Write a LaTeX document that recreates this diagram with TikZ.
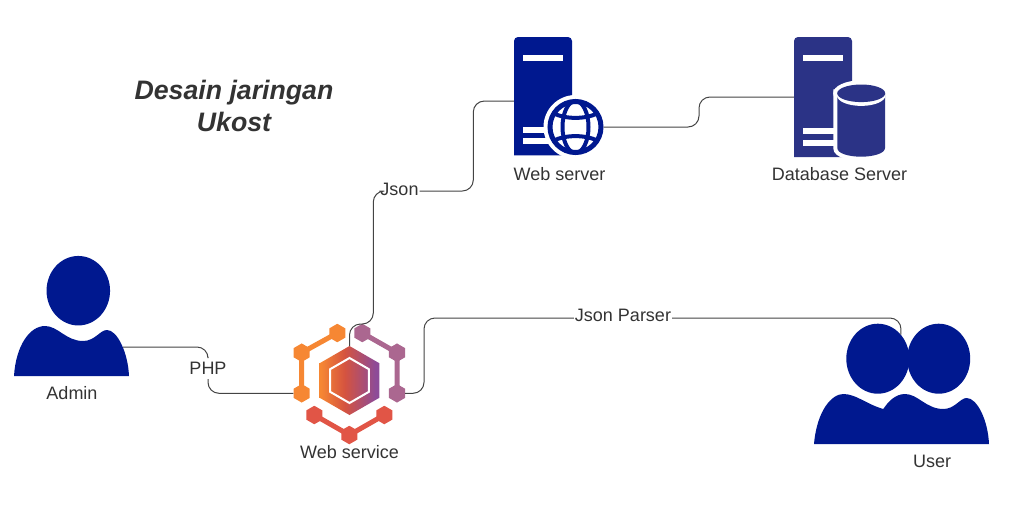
\documentclass[tikz,border=0pt]{standalone}
\usepackage{fontspec}
\setmainfont{Liberation Sans}
\usetikzlibrary{calc,positioning,shapes.geometric}
\definecolor{navyicon}{HTML}{00188F}
\definecolor{dbicon}{HTML}{2B3386}
\definecolor{labeltext}{HTML}{333333}
\definecolor{linkgray}{HTML}{444444}
\definecolor{hexorange}{HTML}{F68733}
\definecolor{hexplum}{HTML}{AB6790}
\definecolor{hexred}{HTML}{E15546}
\definecolor{hexcrimson}{HTML}{D5533F}
\definecolor{hexpurple}{HTML}{8D4B98}
\pgfdeclarehorizontalshading{corefade}{100bp}{
  color(0bp)=(hexorange); color(26bp)=(hexorange); color(46bp)=(hexcrimson);
  color(72bp)=(hexpurple); color(100bp)=(hexpurple)}

\begin{document}
\begin{tikzpicture}[
      x=1pt, y=-1pt,
      every node/.style={font=\fontsize{18}{21}\selectfont, text=labeltext, inner sep=1pt},
      link/.style={draw=linkgray, line width=1pt, rounded corners=11pt},
      head/.style={ellipse, fill=navyicon, inner sep=0pt},
      hexshape/.style={regular polygon, regular polygon sides=6, regular polygon rotate=30, inner sep=0pt},
      hexcell/.style={hexshape, minimum size=18.5pt},
      arm/.style={line width=5pt}
    ]
      \useasboundingbox (0,0) rectangle (1012,509);

      % Title
      \node[font=\fontsize{26.7}{32}\selectfont\bfseries\itshape, align=center] (title) at (234,105.5) {Desain jaringan\\Ukost};

      % Admin
      \node[head, minimum width=63.5pt, minimum height=69.5pt] (adminhead) at (78.3,290.7) {};
      \fill[navyicon] (14,376) .. controls (16,345) and (30,326) .. (45,326)
        .. controls (58,326) and (66,341) .. (83,341)
        .. controls (95,341) and (100,330) .. (107,330)
        .. controls (117,330) and (128,352) .. (129,376) -- cycle;
      \coordinate (adminport) at (123,347);
      \node (adminlabel) at (72,393) {Admin};

      % User
      \node[head, minimum width=63pt, minimum height=70pt] (userhead) at (877.8,358.7) {};
      \node[head, minimum width=63pt, minimum height=70pt] (userhead2) at (938.7,358.7) {};
      \fill[navyicon] (814,444) .. controls (817,410) and (832,394) .. (843.3,394)
        .. controls (856,394) and (866,404) .. (883.3,409)
        .. controls (888,402) and (895,394) .. (905,394)
        .. controls (918,394) and (926,409) .. (943.3,409)
        .. controls (955,409) and (960,398) .. (966.7,398)
        .. controls (977,398) and (988,420) .. (989,444) -- cycle;
      \node (userlabel) at (932,461) {User};

      % Servers
      \foreach \sname/\xa/\yb/\clr in {webserver/514/155.3/navyicon, dbserver/794/157/dbicon}{
        \node[minimum width=58pt, minimum height=\yb pt-37pt, inner sep=0pt] (\sname) at (\xa+29,{(\yb+37)/2}) {};
        \fill[\clr] (\xa,\yb) {[rounded corners=4pt] -- (\xa,37) -- (\xa+58,37)} -- (\xa+58,\yb) -- cycle;
        \fill[white] (\xa+8.7,54.7) rectangle (\xa+49,60.7);
        \fill[white] (\xa+8.7,\yb-28.6) rectangle (\xa+49,\yb-22.6);
        \fill[white] (\xa+8.7,\yb-17) rectangle (\xa+49,\yb-11);
      }
      \node (weblabel) at (559.5,174) {Web server};
      \node (dblabel) at (839.5,174) {Database Server};

      % Globe
      \fill[white] (575.5,127) circle (32);
      \node[circle, draw=navyicon, fill=white, line width=5pt, minimum size=51pt, inner sep=0pt] (globe) at (575.5,127) {};
      \draw[navyicon, line width=4pt] (globe.center) ellipse [x radius=13, y radius=26];
      \draw[navyicon, line width=4pt] (553,113) .. controls (565,119.5) and (586,119.5) .. (598,113);
      \draw[navyicon, line width=4pt] (553,141) .. controls (565,134.5) and (586,134.5) .. (598,141);

      % Cylinder
      \fill[white, draw=white, line width=8pt] (837.3,93.3) -- (837.3,148)
        .. controls (837.3,153.5) and (849,156.7) .. (861.2,156.7)
        .. controls (873,156.7) and (885,153.5) .. (885,148) -- (885,93.3) -- cycle;
      \fill[white] (861.2,93.3) ellipse [x radius=28, y radius=13];
      \fill[dbicon] (837.3,93.3) -- (837.3,148)
        .. controls (837.3,153.5) and (849,156.7) .. (861.2,156.7)
        .. controls (873,156.7) and (885,153.5) .. (885,148) -- (885,93.3) -- cycle;
      \fill[white] (861.2,95.5) ellipse [x radius=24.2, y radius=10.4];
      \fill[dbicon] (861.2,93.3) ellipse [x radius=24, y radius=8.8];

      % Hub
      \foreach \grp/\clr/\xa/\ya/\xb/\yb/\xc/\yc in {
        o/hexorange/337.3/333/301.7/352.7/301.7/393.3,
        p/hexplum/362.3/333/397/352.7/397/393.3,
        r/hexred/314.3/415/349.3/435/384.3/415%
      }{
        \draw[\clr, arm] (\xa,\ya) -- (\xb,\yb) -- (\xc,\yc);
        \node[hexcell, fill=\clr] (\grp1) at (\xa,\ya) {};
        \node[hexcell, fill=\clr] (\grp2) at (\xb,\yb) {};
        \node[hexcell, fill=\clr] (\grp3) at (\xc,\yc) {};
      }
      \node[hexshape, minimum size=69pt, shading=corefade] (core) at (349.5,380.5) {};
      \node[hexshape, minimum size=45pt,
            draw=white, line width=2pt] (coreinner) at (349.5,380.5) {};
      \node (hublabel) at (349.5,452) {Web service};

      % Connector labels
      \node[minimum height=22pt] (php) at (208,368) {PHP};
      \node (json) at (399.5,189) {Json};
      \node (parser) at (623,315) {Json Parser};

      % Connectors
      \coordinate (hubjog) at (373.3,324);
      \coordinate (serverjog) at (473.3,101);
      \coordinate (dbjog) at (699,97);
      \coordinate (parserjog) at (424,318);
      \draw[link] (adminport) -| (php.north);
      \draw[link] (php.south) |- (o3.west);
      \draw[link] (core.north) |- (hubjog) |- ([yshift=-2pt]json.west);
      \draw[link] ([yshift=-2pt]json.east) -| (serverjog) -- ([yshift=-5pt]webserver.west);
      \draw[link] (globe.east) -| (dbjog) -- (dbserver.west);
      \draw[link] (p3.east) -| (parserjog) -- ([yshift=-3pt]parser.west);
      \draw[link] ([yshift=-3pt]parser.east) -| (userhead.46);
    \end{tikzpicture}
\end{document}
